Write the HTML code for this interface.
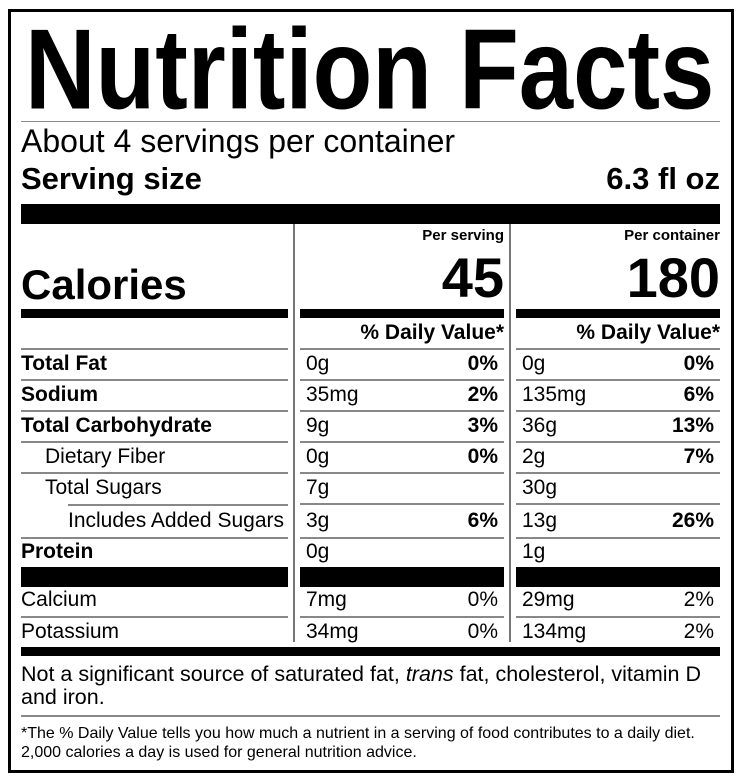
<!DOCTYPE html>
<html><head><meta charset="utf-8"><style>
body{margin:0;width:744px;height:778px;background:#fff;position:relative;overflow:hidden;font-family:"Liberation Sans",Arial,sans-serif;color:#000}
div{position:absolute;white-space:nowrap;line-height:1.149}
.b{font-weight:bold}
.r{text-align:right}
.bar{background:#000}
.ln{background:#888;height:2px}
.t{font-size:21px}
</style></head><body>
<div style="left:8px;top:9px;width:720px;height:758px;border:3px solid #000"></div>
<div class="b" style="left:25px;top:5px;font-size:100px;transform:scale(0.977,1.14);transform-origin:0 0">Nutrition Facts</div>
<div class="ln" style="left:21px;top:121px;width:699px;height:1px"></div>
<div style="left:21px;top:123px;font-size:32px">About 4 servings per container</div>
<div class="b" style="left:21px;top:161px;font-size:31px">Serving size</div>
<div class="b r" style="left:500px;width:220px;top:161px;font-size:31px">6.3 fl oz</div>
<div class="bar" style="left:21px;top:204px;width:699px;height:20px"></div>
<div style="left:293px;top:224px;width:2px;height:418px;background:#777"></div>
<div style="left:509px;top:224px;width:2px;height:418px;background:#777"></div>
<div class="b r" style="left:300px;width:204px;top:227px;font-size:15px">Per serving</div>
<div class="b r" style="left:516px;width:204px;top:227px;font-size:15px">Per container</div>
<div class="b r" style="left:300px;width:204px;top:246px;font-size:56px">45</div>
<div class="b r" style="left:516px;width:204px;top:246px;font-size:56px">180</div>
<div class="b" style="left:21px;top:261px;font-size:42px">Calories</div>
<div class="bar" style="left:21px;top:309px;width:267px;height:9px"></div>
<div class="bar" style="left:300px;top:309px;width:204px;height:9px"></div>
<div class="bar" style="left:516px;top:309px;width:204px;height:9px"></div>
<div class="b r t" style="left:300px;width:204px;top:321px">% Daily Value*</div>
<div class="b r t" style="left:516px;width:204px;top:321px">% Daily Value*</div>
<div class="ln" style="left:21px;top:348px;width:267px"></div>
<div class="ln" style="left:300px;top:348px;width:204px"></div>
<div class="ln" style="left:516px;top:348px;width:204px"></div>

<div class="b t" style="left:21px;top:352px">Total Fat</div>
<div class="t" style="left:306px;top:352px">0g</div><div class="b r t" style="left:300px;width:198px;top:352px">0%</div>
<div class="t" style="left:522px;top:352px">0g</div><div class="b r t" style="left:516px;width:198px;top:352px">0%</div>
<div class="ln" style="left:21px;top:379px;width:267px"></div><div class="ln" style="left:300px;top:379px;width:204px"></div><div class="ln" style="left:516px;top:379px;width:204px"></div>

<div class="b t" style="left:21px;top:383px">Sodium</div>
<div class="t" style="left:306px;top:383px">35mg</div><div class="b r t" style="left:300px;width:198px;top:383px">2%</div>
<div class="t" style="left:522px;top:383px">135mg</div><div class="b r t" style="left:516px;width:198px;top:383px">6%</div>
<div class="ln" style="left:21px;top:410px;width:267px"></div><div class="ln" style="left:300px;top:410px;width:204px"></div><div class="ln" style="left:516px;top:410px;width:204px"></div>

<div class="b t" style="left:21px;top:414px">Total Carbohydrate</div>
<div class="t" style="left:306px;top:414px">9g</div><div class="b r t" style="left:300px;width:198px;top:414px">3%</div>
<div class="t" style="left:522px;top:414px">36g</div><div class="b r t" style="left:516px;width:198px;top:414px">13%</div>
<div class="ln" style="left:21px;top:441px;width:267px"></div><div class="ln" style="left:300px;top:441px;width:204px"></div><div class="ln" style="left:516px;top:441px;width:204px"></div>

<div class="t" style="left:45px;top:445px">Dietary Fiber</div>
<div class="t" style="left:306px;top:445px">0g</div><div class="b r t" style="left:300px;width:198px;top:445px">0%</div>
<div class="t" style="left:522px;top:445px">2g</div><div class="b r t" style="left:516px;width:198px;top:445px">7%</div>
<div class="ln" style="left:21px;top:472px;width:267px"></div><div class="ln" style="left:300px;top:472px;width:204px"></div><div class="ln" style="left:516px;top:472px;width:204px"></div>

<div class="t" style="left:45px;top:476px">Total Sugars</div>
<div class="t" style="left:306px;top:476px">7g</div>
<div class="t" style="left:522px;top:476px">30g</div>
<div class="ln" style="left:68px;top:504px;width:220px"></div><div class="ln" style="left:300px;top:503px;width:204px"></div><div class="ln" style="left:516px;top:503px;width:204px"></div>

<div class="t" style="left:68px;top:509px">Includes Added Sugars</div>
<div class="t" style="left:306px;top:509px">3g</div><div class="b r t" style="left:300px;width:198px;top:509px">6%</div>
<div class="t" style="left:522px;top:509px">13g</div><div class="b r t" style="left:516px;width:198px;top:509px">26%</div>
<div class="ln" style="left:21px;top:537px;width:267px"></div><div class="ln" style="left:300px;top:537px;width:204px"></div><div class="ln" style="left:516px;top:537px;width:204px"></div>

<div class="b t" style="left:21px;top:540px">Protein</div>
<div class="t" style="left:306px;top:540px">0g</div>
<div class="t" style="left:522px;top:540px">1g</div>

<div class="bar" style="left:21px;top:567px;width:267px;height:20px"></div>
<div class="bar" style="left:300px;top:567px;width:204px;height:20px"></div>
<div class="bar" style="left:516px;top:567px;width:204px;height:20px"></div>

<div class="t" style="left:21px;top:588px">Calcium</div>
<div class="t" style="left:306px;top:588px">7mg</div><div class="r t" style="left:300px;width:198px;top:588px">0%</div>
<div class="t" style="left:522px;top:588px">29mg</div><div class="r t" style="left:516px;width:198px;top:588px">2%</div>
<div class="ln" style="left:21px;top:616px;width:267px"></div><div class="ln" style="left:300px;top:616px;width:204px"></div><div class="ln" style="left:516px;top:616px;width:204px"></div>

<div class="t" style="left:21px;top:620px">Potassium</div>
<div class="t" style="left:306px;top:620px">34mg</div><div class="r t" style="left:300px;width:198px;top:620px">0%</div>
<div class="t" style="left:522px;top:620px">134mg</div><div class="r t" style="left:516px;width:198px;top:620px">2%</div>

<div class="bar" style="left:21px;top:647px;width:699px;height:9px"></div>
<div style="left:21px;top:662px;font-size:21.5px;line-height:24px">Not a significant source of saturated fat, <i>trans</i> fat, cholesterol, vitamin D</div>
<div style="left:21px;top:685px;font-size:21.5px;line-height:24px">and iron.</div>
<div class="ln" style="left:21px;top:715px;width:699px"></div>
<div style="left:21px;top:724px;font-size:16px;line-height:19px">*The % Daily Value tells you how much a nutrient in a serving of food contributes to a daily diet.</div>
<div style="left:21px;top:743px;font-size:16px;line-height:19px">2,000 calories a day is used for general nutrition advice.</div>
</body></html>
